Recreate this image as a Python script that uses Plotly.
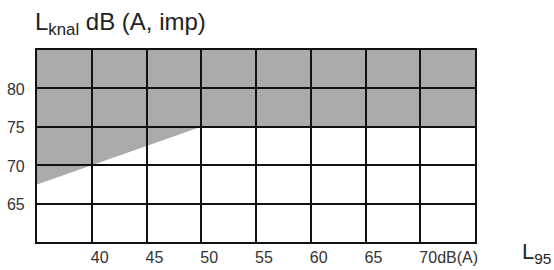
import plotly.graph_objects as go

# Data
x_ticks = [40, 45, 50, 55, 60, 65, 70]
x_tick_labels = ["40", "45", "50", "55", "60", "65", "70dB(A)"]
y_ticks = [65, 70, 75, 80]
y_tick_labels = ["65", "70", "75", "80"]
x_range = [35, 75]
y_range = [60, 85]
# lower boundary of the shaded (critical) region: L95 -> Lknal
limit_l95 = [35, 50, 75]
limit_lknal = [67.5, 75, 75]

fig = go.Figure()

# polygon for shaded area: boundary + top of chart
poly_x = list(limit_l95) + [limit_l95[-1], limit_l95[0]]
poly_y = list(limit_lknal) + [y_range[1], y_range[1]]
path = "M " + " L ".join(f"{x},{y}" for x, y in zip(poly_x, poly_y)) + " Z"
fig.add_shape(type="path", path=path, xref="x", yref="y",
              fillcolor="#ababab", line=dict(width=0), layer="below")

# invisible trace to establish axes
fig.add_trace(go.Scatter(x=x_range, y=y_range, mode="markers",
                         marker=dict(opacity=0), hoverinfo="skip", showlegend=False))

font_family = "Liberation Sans, Arial, sans-serif"

fig.update_layout(
    width=554, height=270, autosize=False,
    margin=dict(l=37, r=79, t=50, b=28),
    paper_bgcolor="white", plot_bgcolor="white",
    font=dict(family=font_family, color="#333333"),
    showlegend=False,
)
fig.update_xaxes(
    range=x_range, tickmode="array", tickvals=x_ticks, ticktext=x_tick_labels,
    showgrid=True, gridcolor="#111111", gridwidth=2.2,
    showline=True, linecolor="#111111", linewidth=2.2, mirror=True,
    ticks="", ticklabelposition="outside right", ticklabelshift=-2,
    tickfont=dict(size=16, color="#333333", family=font_family),
    zeroline=False, fixedrange=True, automargin=False,
)
fig.update_yaxes(
    range=y_range, tickmode="array", tickvals=y_ticks, ticktext=y_tick_labels,
    showgrid=True, gridcolor="#111111", gridwidth=2.2,
    showline=True, linecolor="#111111", linewidth=2.2, mirror=True,
    ticks="outside", ticklen=7, tickcolor="rgba(0,0,0,0)", ticklabelshift=1,
    tickfont=dict(size=16, color="#333333", family=font_family),
    zeroline=False, fixedrange=True, automargin=False,
)

fig.add_annotation(
    text="L<sub>knal</sub> dB (A, imp)", xref="paper", yref="paper",
    x=0, y=1, xanchor="left", yanchor="bottom", xshift=-4, yshift=9,
    showarrow=False, font=dict(size=24, color="#222222", family=font_family),
)
fig.add_annotation(
    text="L<sub>95</sub>", xref="paper", yref="paper",
    x=1, y=0, xanchor="left", yanchor="top", xshift=45, yshift=5,
    showarrow=False, font=dict(size=22, color="#222222", family=font_family),
)

fig.write_html("out.html", config={"displayModeBar": False},
               post_script="document.body.style.margin='0';")
